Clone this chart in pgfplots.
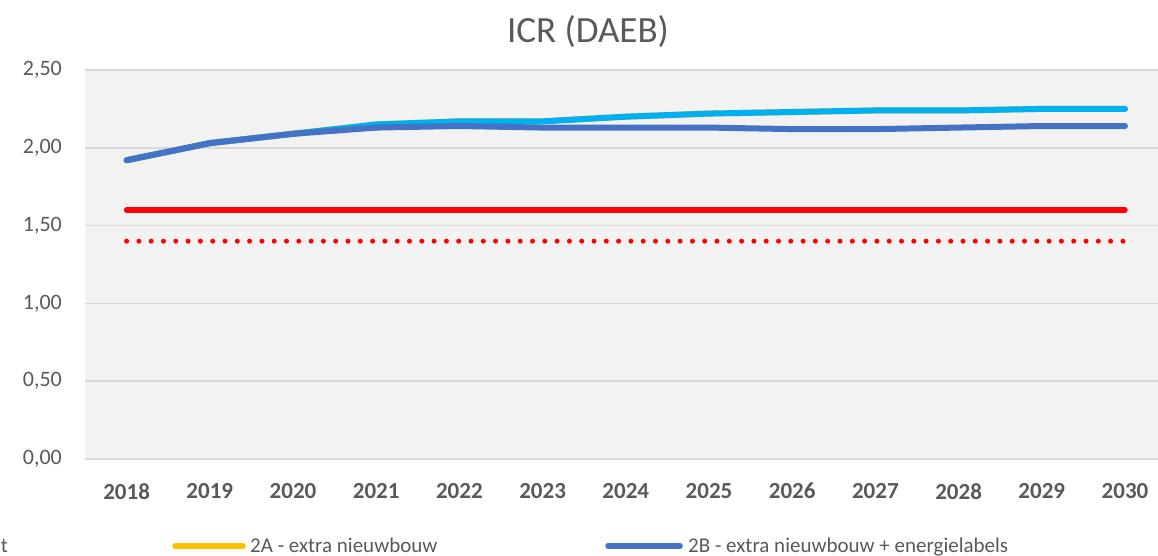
\documentclass[border=0pt]{standalone}
\usepackage{pgfplots}
\usepackage{pgfplotstable}
\pgfplotsset{compat=1.18}
\usepackage{fontspec}
\setmainfont{Carlito}
\definecolor{gridc}{HTML}{D9D9D9}
\definecolor{bgc}{HTML}{F2F2F2}
\definecolor{txt}{HTML}{595959}
\definecolor{lblue}{HTML}{00B0F0}
\definecolor{dblue}{HTML}{4472C4}
\definecolor{yel}{HTML}{FFC000}
\definecolor{rred}{HTML}{FF0000}

\pgfplotstableread{
x lb db
0 1.92 1.92
1 2.03 2.03
2 2.09 2.09
3 2.15 2.13
4 2.17 2.14
5 2.17 2.13
6 2.20 2.13
7 2.22 2.13
8 2.23 2.12
9 2.24 2.12
10 2.24 2.13
11 2.25 2.14
12 2.25 2.14
}\icrdata

\pgfplotstableread{
x norm
0 1.60
12 1.60
}\normdata

\pgfplotstableread{
x min
0 1.40
12 1.40
}\mindata

\begin{document}
\begin{tikzpicture}[x=1pt,y=1pt]
\useasboundingbox (0,0) rectangle (1158,555);
\begin{scope}
\clip (0,0) rectangle (1158,555);
\begin{axis}[
  at={(85pt,96pt)}, anchor=south west,
  scale only axis, width=1081.6pt, height=389pt,
  xmin=-0.5, xmax=12.5, ymin=0, ymax=2.5,
  axis background/.style={fill=bgc},
  axis line style={draw=none},
  ymajorgrids, grid style={gridc, line width=1.5pt},
  xtick={0,1,2,3,4,5,6,7,8,9,10,11,12},
  xticklabels={2018,2019,2020,2021,2022,2023,2024,2025,2026,2027,2028,2029,2030},
  ytick={0,0.5,1,1.5,2,2.5},
  major tick length=0pt,
  tick style={draw=none},
  xticklabel style={font=\fontsize{23}{27}\selectfont\bfseries, text=txt, anchor=north, inner sep=0pt, yshift=-24pt},
  yticklabel style={font=\fontsize{22}{26}\selectfont, text=txt, anchor=east, inner sep=0pt, xshift=-23pt,
    /pgf/number format/fixed, /pgf/number format/fixed zerofill,
    /pgf/number format/precision=2, /pgf/number format/use comma,
    /pgf/number format/assume math mode=true},
]
\addplot[rred, line width=5.5pt, line cap=round] table[x=x, y=norm] {\normdata};
\addplot[rred, line width=5pt, line cap=round, dash pattern=on 0pt off 12.3pt] table[x=x, y=min] {\mindata};
\addplot[yel, line width=6pt, line cap=round, line join=round] table[x=x, y=lb] {\icrdata};
\addplot[lblue, line width=6pt, line cap=round, line join=round] table[x=x, y=lb] {\icrdata};
\addplot[dblue, line width=6pt, line cap=round, line join=round] table[x=x, y=db] {\icrdata};
\end{axis}
% title
\node[anchor=base, inner sep=0pt, text=txt, font=\fontsize{37}{44}\selectfont] at (588,512) {ICR (DAEB)};
% legend (partly cut off, as in the reference)
\draw[lblue, line width=5.5pt, line cap=round] (-196,9) -- (-128,9);
\node[anchor=base east, inner sep=0pt, text=txt, font=\fontsize{21}{25}\selectfont] at (8,2.5) {1 - Basisvariant};
\draw[yel, line width=5.5pt, line cap=round] (175,9) -- (243,9);
\node[anchor=base west, inner sep=0pt, text=txt, font=\fontsize{21}{25}\selectfont] at (250,2.5) {2A - extra nieuwbouw};
\draw[dblue, line width=5.5pt, line cap=round] (608,9) -- (680,9);
\node[anchor=base west, inner sep=0pt, text=txt, font=\fontsize{21}{25}\selectfont] at (688,2.5) {2B - extra nieuwbouw + energielabels};
\end{scope}
\end{tikzpicture}
\end{document}
